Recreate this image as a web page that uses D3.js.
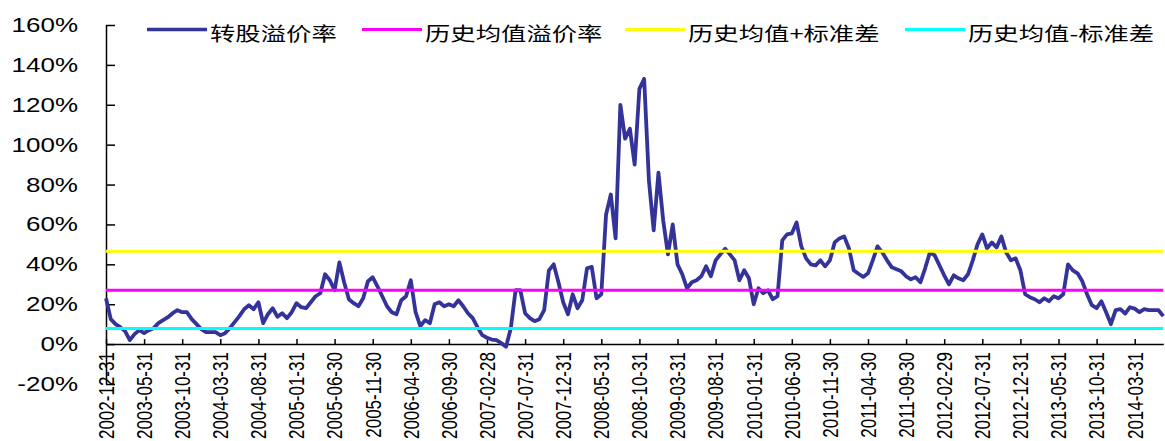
<!DOCTYPE html>
<html>
<head>
<meta charset="utf-8">
<script src="https://cdn.jsdelivr.net/npm/d3@7"></script>
<style>
  html, body { margin: 0; padding: 0; background: #fff; }
  svg { display: block; }
</style>
</head>
<body>
<svg id="chart" width="1165" height="441"></svg>
<script>
// ---------- DATA ----------
const tickLabels = ["2002-12-31","2003-05-31","2003-10-31","2004-03-31","2004-08-31","2005-01-31",
  "2005-06-30","2005-11-30","2006-04-30","2006-09-30","2007-02-28","2007-07-31","2007-12-31",
  "2008-05-31","2008-10-31","2009-03-31","2009-08-31","2010-01-31","2010-06-30","2010-11-30",
  "2011-04-30","2011-09-30","2012-02-29","2012-07-31","2012-12-31","2013-05-31","2013-10-31","2014-03-31"];
const pointsPerTick = 8; // observations between two labelled dates
// 转股溢价率 (%), sampled evenly through time
const premium = [23,12.5,10,8.5,6.5,2,5,7,5.5,7,8,10.5,12,13.5,15.5,17,16,16,12.5,10,
  7.5,6,6,6,4.5,5.5,8,11,14,17.5,19.5,17.5,21,10.5,15,18,13.7,15.5,13,16,
  20.5,18.5,18,21,24,25.5,35,32,27,41,31,22.5,20.5,19,23,31.5,33.5,29,24,19,
  16,15,22,24,32,16,9,12,10.5,20,21,19,20,19,22,19,15.5,13,8.5,4.5,
  3.2,2.3,2,0.5,-1.3,8,27,27,15.5,13,11.5,12.5,17,37,40,31,21,15,25,18,
  22,38,38.7,23,25,65,75,53,120,103,108,90,128,133,82,57,86,62,45,60,
  40,35,28,31,32,34,39,34,42,45,47.8,45,42,32,37,33,20,28,25.5,27,
  22.5,24,52,55,55.5,61,49,43,40,39.5,42,39,42,51,53,54,48,37,35.3,33.7,
  35.5,42,49,46,42,38.5,37.5,36.5,34,32.5,33.5,31,38,46,44.5,39.5,34.5,30,34.5,33,
  32,35,42,50,55,48,51,48.5,54,46,42,43,37,25,23.5,22.5,21,23,21.5,24,
  23,25,40,37,35.5,31.5,25,19.5,18,21.5,16,10,17,17.5,15.3,18.5,17.8,16,17.5,17,
  17,17,14];
const histMean = 27;      // 历史均值溢价率 (%)
const histUpper = 46.5;   // 历史均值+标准差 (%)
const histLower = 7.8;    // 历史均值-标准差 (%)
const yTicks = [-20,0,20,40,60,80,100,120,140,160];
const seriesNames = ["转股溢价率","历史均值溢价率","历史均值+标准差","历史均值-标准差"];
const seriesColors = ["#333399","#FF00FF","#FFFF00","#00FFFF"];

// ---------- LAYOUT ----------
const svg = d3.select("#chart");
const stretch = 1.3; // the reference's text is horizontally stretched
const plotLeft = 106, plotTop = 25, plotBottom = 384;
const stepPx = 38.1 / pointsPerTick;
const n = premium.length;

const x = d3.scaleLinear().domain([0, n - 1]).range([plotLeft, plotLeft + (n - 1) * stepPx]);
const y = d3.scaleLinear().domain([-20, 160]).range([plotBottom, plotTop]);

// Y axis
const yAxis = svg.append("g").attr("transform", `translate(${plotLeft},0)`)
  .call(d3.axisLeft(y).tickValues(yTicks).tickSizeInner(-9).tickSizeOuter(0).tickFormat(""));
yAxis.selectAll("path,line").attr("stroke", "#000").attr("stroke-width", 1.5);

svg.append("g").selectAll("text").data(yTicks).join("text")
  .attr("transform", d => `translate(78,${y(d)}) scale(${stretch},1)`)
  .attr("dy", 7)
  .attr("text-anchor", "end")
  .attr("font-family", "'Liberation Sans', Arial, sans-serif")
  .attr("font-size", 20)
  .attr("fill", "#000")
  .text(d => d + "%");

// X axis at 0%
const tickIdx = tickLabels.map((_, i) => i * pointsPerTick);
const xAxis = svg.append("g").attr("transform", `translate(0,${y(0)})`)
  .call(d3.axisBottom(x).tickValues(tickIdx).tickSizeInner(-5).tickSizeOuter(0).tickFormat(""));
xAxis.selectAll("path,line").attr("stroke", "#000").attr("stroke-width", 1.5);

svg.append("g").selectAll("text").data(tickLabels).join("text")
  .attr("transform", (d, i) => `translate(${x(tickIdx[i])},${y(0) + 8}) scale(${stretch},1) rotate(-90)`)
  .attr("dy", 6)
  .attr("text-anchor", "end")
  .attr("font-family", "'Liberation Sans', Arial, sans-serif")
  .attr("font-size", 17)
  .attr("fill", "#000")
  .text(d => d);

// Premium series
const line = d3.line().x((d, i) => x(i)).y(d => y(d));
svg.append("path").datum(premium)
  .attr("d", line)
  .attr("fill", "none")
  .attr("stroke", seriesColors[0])
  .attr("stroke-width", 3.8)
  .attr("stroke-linejoin", "round");

// Reference lines
const refVals = [histMean, histUpper, histLower];
refVals.forEach((v, k) => {
  svg.append("path").datum(premium.map(() => v))
    .attr("d", line)
    .attr("fill", "none")
    .attr("stroke", seriesColors[k + 1])
    .attr("stroke-width", 3);
});

// Legend
const legendX = [147, 362, 625, 905];
const legY = 29.5;
const leg = svg.append("g");
seriesNames.forEach((name, k) => {
  leg.append("line")
    .attr("x1", legendX[k]).attr("x2", legendX[k] + 60)
    .attr("y1", legY).attr("y2", legY)
    .attr("stroke", seriesColors[k]).attr("stroke-width", k === 0 ? 3.5 : 3);
  leg.append("text")
    .attr("transform", `translate(${legendX[k] + 63},${legY + 11}) scale(${stretch},1)`)
    .attr("font-family", "'Noto Sans CJK SC', sans-serif")
    .attr("font-size", 19.5)
    .attr("fill", "#000")
    .text(name);
});
</script>
</body>
</html>
